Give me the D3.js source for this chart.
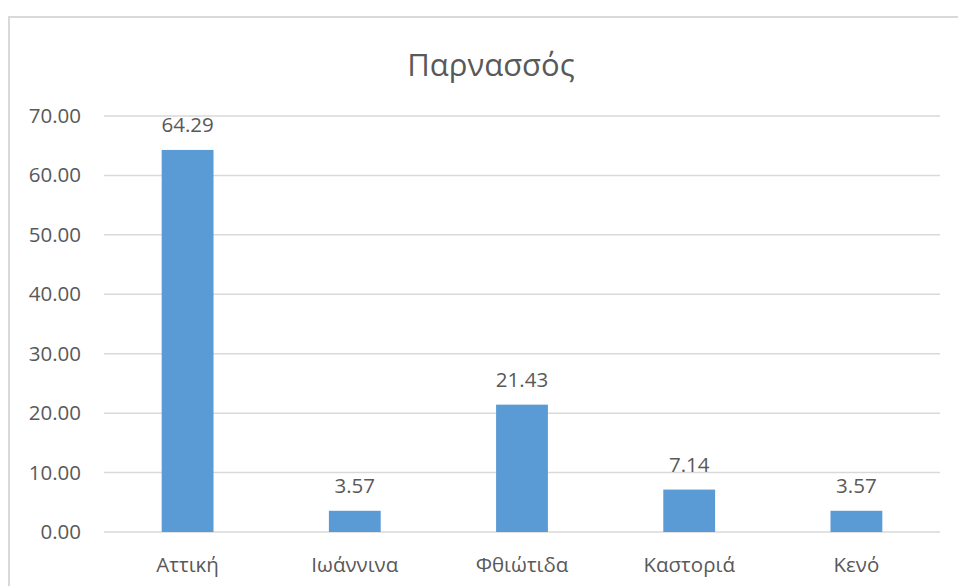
<!DOCTYPE html>
<html><head><meta charset="utf-8">
<script src="https://cdn.jsdelivr.net/npm/d3@7"></script>
<style>body{margin:0;background:#fff;}svg{display:block;font-family:"Open Sans",sans-serif;}</style>
</head><body>
<script>
const title = "Παρνασσός";
const categories = ["Αττική","Ιωάννινα","Φθιώτιδα","Καστοριά","Κενό"];
const values = [64.29, 3.57, 21.43, 7.14, 3.57];
const yTicks = [0,10,20,30,40,50,60,70];

const W=958,H=586;
const svg=d3.select("body").append("svg").attr("width",W).attr("height",H);
svg.append("rect").attr("x",9).attr("y",17).attr("width",980).attr("height",600)
  .attr("fill","#fff").attr("stroke","#d9d9d9").attr("stroke-width",2);

const x=d3.scaleBand().domain(categories).range([104,940]).paddingInner(0.69).paddingOuter(0.345);
const y=d3.scaleLinear().domain([0,70]).range([532,116]);

svg.append("g").selectAll("line").data(yTicks).join("line")
  .attr("x1",104).attr("x2",940).attr("y1",d=>y(d)).attr("y2",d=>y(d))
  .attr("stroke","#d9d9d9").attr("stroke-width",1.5);

const yAxis=d3.axisLeft(y).tickValues(yTicks).tickFormat(d3.format(".2f")).tickSize(0).tickPadding(0);
const ga=svg.append("g").attr("transform","translate(81,0)").call(yAxis);
ga.select(".domain").remove();
ga.selectAll("text").attr("fill","#595959").style("font-size","20.5px").style("font-family","'Open Sans',sans-serif");

svg.append("g").selectAll("rect").data(values).join("rect")
  .attr("x",(d,i)=>x(categories[i])).attr("width",x.bandwidth())
  .attr("y",d=>y(d)).attr("height",d=>y(0)-y(d)).attr("fill","#5b9bd5");

svg.append("g").selectAll("text").data(values).join("text")
  .attr("x",(d,i)=>x(categories[i])+x.bandwidth()/2).attr("y",d=>y(d)-18)
  .attr("text-anchor","middle").attr("fill","#595959").style("font-size","20.5px")
  .text(d=>d3.format(".2f")(d));

const xAxis=d3.axisBottom(x).tickSize(0).tickPadding(25);
const gx=svg.append("g").attr("transform","translate(0,532)").call(xAxis);
gx.select(".domain").remove();
gx.selectAll("text").attr("fill","#595959").style("font-size","20.5px").style("font-family","'Open Sans',sans-serif");

svg.append("text").attr("x",491).attr("y",76).attr("text-anchor","middle")
  .attr("fill","#595959").style("font-size","31px").text(title);
</script>
</body></html>
